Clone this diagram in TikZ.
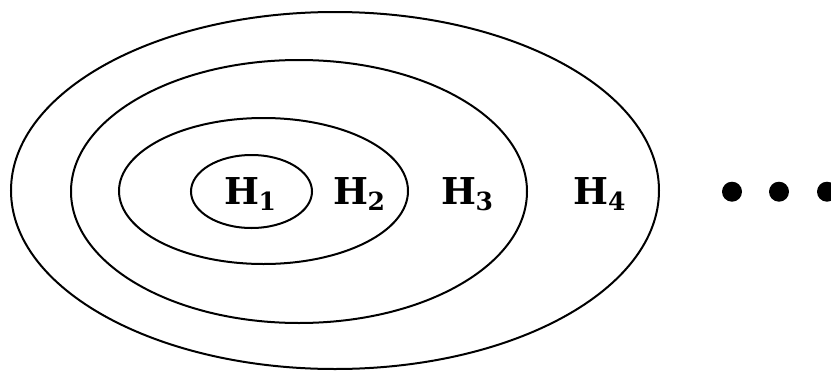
\documentclass[tikz,border=0pt]{standalone}
\usepackage{fontspec}
\setmainfont{DejaVu Serif}
\newcommand{\hlab}[1]{{\fontsize{37}{37}\selectfont\bfseries H}\kern-0.5pt\raisebox{-6pt}{\fontsize{25}{25}\selectfont\bfseries #1}}
\begin{document}
\begin{tikzpicture}[x=1pt,y=-1pt,
  ring/.style={draw=black,line width=2pt},
  lab/.style={inner sep=0pt,anchor=center},
  bigdot/.style={fill=black,draw=none}]
\useasboundingbox (0,0) rectangle (831,370);
\draw[ring] (335,190.5) ellipse (324pt and 178.5pt);
\draw[ring] (299,191.5) ellipse (228pt and 131.5pt);
\draw[ring] (263.5,191) ellipse (144.5pt and 73pt);
\draw[ring] (251.5,191.5) ellipse (60.5pt and 36.5pt);
\node[lab] (h1) at (250,194.5) {\hlab{1}};
\node[lab] (h2) at (359,194.5) {\hlab{2}};
\node[lab] (h3) at (467,194.5) {\hlab{3}};
\node[lab] (h4) at (599.5,194.5) {\hlab{4}};
\fill[bigdot] (732,191.7) circle (10pt);
\fill[bigdot] (779,191.7) circle (10pt);
\fill[bigdot] (827,191.7) circle (10pt);
\end{tikzpicture}
\end{document}
